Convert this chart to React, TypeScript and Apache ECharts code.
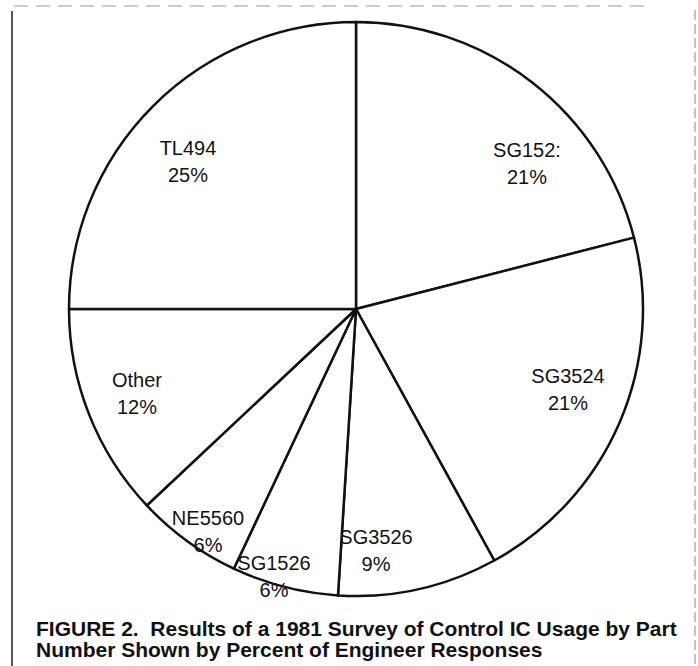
import React, { useEffect, useRef } from "react";
import * as echarts from "echarts";

const partNumbers = ["SG152:", "SG3524", "SG3526", "SG1526", "NE5560", "Other", "TL494"];
const percentShares = [21, 21, 9, 6, 6, 12, 25];
const captionLines = [
  "FIGURE 2.  Results of a 1981 Survey of Control IC Usage by Part",
  "Number Shown by Percent of Engineer Responses",
];

// label anchor positions (layout only)
const labelSpots: [number, number][] = [
  [527, 163],
  [568, 389],
  [376, 550],
  [274, 576],
  [208, 531],
  [137, 393],
  [188, 161],
];

export default function App() {
  const ref = useRef<HTMLDivElement>(null);
  useEffect(() => {
    if (!ref.current) return;
    const chart = echarts.init(ref.current, null, { renderer: "svg" });
    const fontFamily = "'Liberation Sans', Arial, Helvetica, sans-serif";
    chart.setOption({
      animation: false,
      backgroundColor: "#ffffff",
      series: [
        {
          type: "pie",
          center: [356, 309],
          radius: 287,
          startAngle: 90,
          clockwise: true,
          silent: true,
          itemStyle: { color: "#ffffff", borderColor: "#111111", borderWidth: 2.5 },
          label: {
            show: true,
            position: "inside",
            formatter: (p: any) => `${p.name}\n${p.value}%`,
            color: "#111111",
            fontSize: 20,
            lineHeight: 27,
            fontFamily,
            align: "center",
          },
          labelLine: { show: false },
          labelLayout: (p: any) => ({
            x: labelSpots[p.dataIndex][0],
            y: labelSpots[p.dataIndex][1],
            align: "center",
            verticalAlign: "middle",
          }),
          data: partNumbers.map((n, i) => ({ name: n, value: percentShares[i] })),
        },
      ],
      graphic: [
        {
          type: "line",
          shape: { x1: 12, y1: 11, x2: 12, y2: 666 },
          style: { stroke: "#222", lineWidth: 1.5 },
        },
        {
          type: "line",
          shape: { x1: 695, y1: 10, x2: 695, y2: 666 },
          style: { stroke: "#888", lineWidth: 1, lineDash: [10, 4] },
        },
        {
          type: "line",
          shape: { x1: 14, y1: 6, x2: 650, y2: 6 },
          style: { stroke: "#999", lineWidth: 1, lineDash: [14, 8] },
        },
        {
          type: "circle",
          shape: { cx: 357, cy: 311, r: 3 },
          style: { fill: "#111" },
        },
        ...captionLines.map((t, i) => ({
          type: "text",
          x: 36,
          y: 628 + i * 21,
          style: {
            text: t,
            fill: "#111",
            font: `bold 21px ${fontFamily}`,
            verticalAlign: "middle",
          },
        })),
      ],
    });
    return () => chart.dispose();
  }, []);
  return (
    <div
      ref={ref}
      style={{ position: "fixed", left: 0, top: 0, width: 698, height: 666 }}
    />
  );
}
